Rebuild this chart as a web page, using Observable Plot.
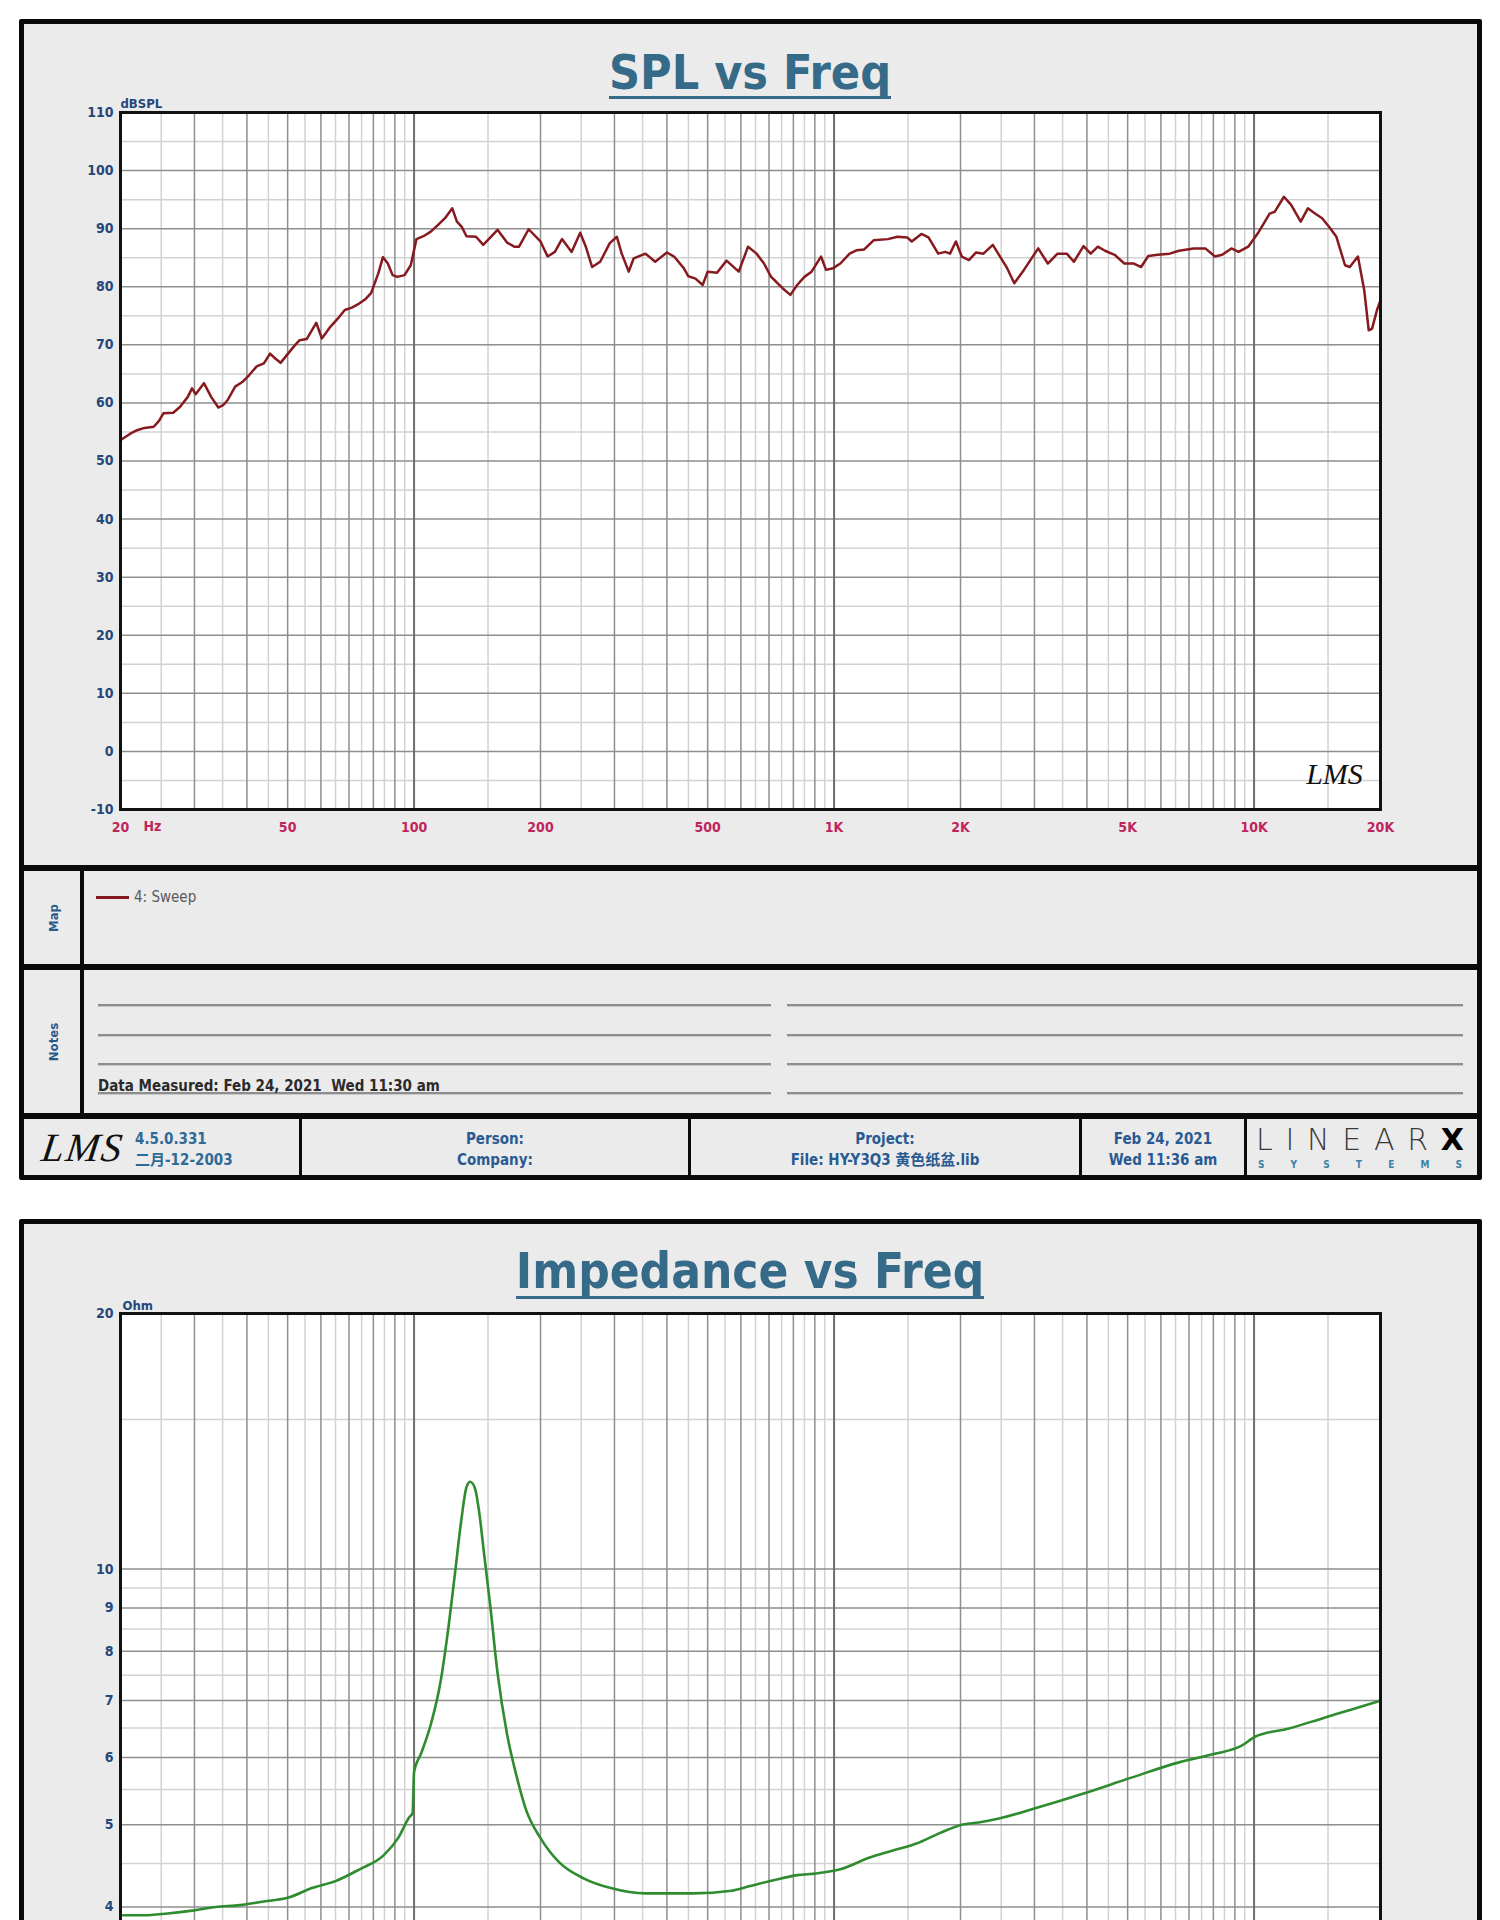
<!DOCTYPE html>
<html><head><meta charset="utf-8">
<script src="https://cdn.jsdelivr.net/npm/d3@7"></script>
<script src="https://cdn.jsdelivr.net/npm/@observablehq/plot@0.6"></script>
<style>
html,body{margin:0;padding:0;background:#fff;}
body{width:1500px;height:1920px;overflow:hidden;position:relative;font-family:"DejaVu Sans Condensed","DejaVu Sans","Noto Sans CJK SC",sans-serif;font-stretch:condensed;}
.panel{position:absolute;background:#ebebeb;border:5px solid #0a0a0a;box-sizing:border-box;border-radius:2px;}
.bar{position:absolute;background:#0a0a0a;}
.t{position:absolute;white-space:pre;line-height:1;}
.title{position:absolute;left:0;width:1500px;text-align:center;}
.title span{display:inline-block;font-size:48px;line-height:48px;font-weight:bold;color:#356a88;border-bottom:3px solid #356a88;}
.vlab{position:absolute;font-size:13px;font-weight:bold;color:#2a5a8a;transform:translate(-50%,-50%) rotate(-90deg);white-space:pre;}
.nline{position:absolute;height:2px;background:#8d8d8d;box-shadow:0 1px 0 #c9c9c9;}
.foot{position:absolute;font-size:15px;font-weight:bold;color:#2a5a92;text-align:center;line-height:1;white-space:pre;transform:translateY(-50%);}
.plotwrap{position:absolute;left:0;}
</style>
</head>
<body>
<div class="panel" style="left:19px;top:19px;width:1463px;height:1161px;"></div>
<div class="panel" style="left:19px;top:1219px;width:1463px;height:900px;"></div>

<div class="title" style="top:48px;"><span>SPL vs Freq</span></div>
<div class="title" style="top:1248px;"><span style="font-size:49px;">Impedance vs Freq</span></div>

<div id="spl" class="plotwrap" style="top:0px;"></div>
<div id="imp" class="plotwrap" style="top:1219px;"></div>

<!-- dividers -->
<div class="bar" style="left:19px;top:865px;width:1463px;height:6px;"></div>
<div class="bar" style="left:19px;top:964px;width:1463px;height:6px;"></div>
<div class="bar" style="left:19px;top:1113px;width:1463px;height:6px;"></div>
<div class="bar" style="left:80px;top:871px;width:4px;height:242px;"></div>
<div class="bar" style="left:299px;top:1119px;width:3px;height:57px;"></div>
<div class="bar" style="left:688px;top:1119px;width:3px;height:57px;"></div>
<div class="bar" style="left:1079px;top:1119px;width:3px;height:57px;"></div>
<div class="bar" style="left:1244px;top:1119px;width:3px;height:57px;"></div>

<!-- map -->
<div class="vlab" style="left:53px;top:918px;">Map</div>
<div id="legendLine" style="position:absolute;left:96px;top:896px;width:33px;height:2.5px;"></div>
<div id="legendText" class="t" style="left:134px;top:890px;font-size:15px;color:#5a5a5a;font-stretch:normal;"></div>

<!-- notes -->
<div class="vlab" style="left:53px;top:1042px;">Notes</div>
<div class="nline" style="left:98px;top:1004px;width:673px;"></div>
<div class="nline" style="left:787px;top:1004px;width:676px;"></div>
<div class="nline" style="left:98px;top:1034px;width:673px;"></div>
<div class="nline" style="left:787px;top:1034px;width:676px;"></div>
<div class="nline" style="left:98px;top:1063px;width:673px;"></div>
<div class="nline" style="left:787px;top:1063px;width:676px;"></div>
<div class="nline" style="left:98px;top:1092px;width:673px;"></div>
<div class="nline" style="left:787px;top:1092px;width:676px;"></div>
<div class="t" style="left:98px;top:1079px;font-size:15px;font-weight:bold;color:#2b2b2b;">Data Measured: Feb 24, 2021  Wed 11:30 am</div>

<!-- footer -->
<div class="t" style="left:42px;top:1128px;font-family:'Liberation Serif',serif;font-style:italic;font-size:40px;letter-spacing:2px;color:#111;transform:skewX(-8deg);">LMS</div>
<div class="foot" style="left:135px;top:1139px;color:#2d6a98;text-align:left;">4.5.0.331</div>
<div class="foot" style="left:135px;top:1160px;color:#2d6a98;text-align:left;">二月-12-2003</div>
<div class="foot" style="left:302px;width:386px;top:1139px;">Person:</div>
<div class="foot" style="left:302px;width:386px;top:1160px;">Company:</div>
<div class="foot" style="left:691px;width:388px;top:1139px;">Project:</div>
<div class="foot" style="left:691px;width:388px;top:1160px;">File: HY-Y3Q3 黄色纸盆.lib</div>
<div class="foot" style="left:1082px;width:162px;top:1139px;">Feb 24, 2021</div>
<div class="foot" style="left:1082px;width:162px;top:1160px;">Wed 11:36 am</div>
<div style="position:absolute;left:1256px;top:1122px;width:208px;display:flex;justify-content:space-between;align-items:baseline;font-family:'DejaVu Sans',sans-serif;font-stretch:normal;font-size:30px;font-weight:200;color:#3a3a3a;line-height:normal;">
<span>L</span><span>I</span><span>N</span><span>E</span><span>A</span><span>R</span><span style="font-weight:900;color:#000;">X</span></div>
<div style="position:absolute;left:1258px;top:1159px;width:204px;display:flex;justify-content:space-between;font-size:10px;font-weight:bold;color:#3b82a6;line-height:normal;">
<span>S</span><span>Y</span><span>S</span><span>T</span><span>E</span><span>M</span><span>S</span></div>

<script>
// ---------- SPL data (Hz, dBSPL) ----------
const sweepFreq = [20.1,21.1,21.9,22.8,24.0,24.7,25.3,26.7,27.7,28.9,29.6,30.2,31.6,32.9,34.2,35.1,36.0,37.5,39.0,40.5,42.2,43.9,45.4,46.8,48.1,50.0,52.0,53.4,55.5,58.5,60.3,63.2,65.8,68.4,71.1,74.0,76.4,79.0,82.2,84.3,86.6,88.9,91.2,94.9,98.2,101.3,105.3,109.6,113.9,118.5,123.3,126.5,129.9,133.3,140.5,146.1,152.0,158.0,166.5,173.2,177.8,187.4,200,208,216.4,225,237.2,248.6,256.4,265.4,277.4,292.4,304,312.2,324.4,333.4,355.6,375,400,416,438.6,449.8,467.8,486.6,500,526.4,554.6,593,624,654,681,708,727,755,787,817,850,884,931,957,995,1035,1089,1133,1178,1242,1343,1416,1493,1531,1614,1678,1770,1840,1888,1950,2014,2094,2178,2268,2388,2484,2583,2686,2832,3062,3228,3404,3582,3724,3926,4084,4246,4416,4656,4910,5176,5384,5598,5902,6296,6626,7178,7656,8072,8396,8832,9184,9684,10210,10890,11196,11780,12254,12914,13430,13966,14522,15100,15704,16466,16900,17672,18294,18752,19100,19620,20000];
const sweepDb = [53.7,54.7,55.3,55.7,55.9,56.9,58.2,58.3,59.3,61.0,62.5,61.5,63.4,61.0,59.2,59.6,60.5,62.8,63.6,64.8,66.3,66.8,68.5,67.6,66.9,68.4,69.9,70.8,71.0,73.8,71.1,73.1,74.5,76.0,76.4,77.1,77.8,78.9,82.3,85.1,84.0,82.0,81.7,82.0,83.7,88.2,88.7,89.5,90.6,91.8,93.5,91.2,90.3,88.7,88.6,87.2,88.5,89.8,87.6,86.9,86.9,89.9,87.8,85.2,86.0,88.2,86.0,89.3,86.9,83.4,84.3,87.5,88.6,85.7,82.6,84.9,85.7,84.3,85.9,85.2,83.2,81.8,81.4,80.3,82.6,82.4,84.5,82.6,86.9,85.7,84.0,81.7,80.9,79.7,78.6,80.3,81.7,82.6,85.2,82.9,83.2,84.0,85.7,86.3,86.4,88.0,88.2,88.6,88.5,87.8,89.1,88.5,85.7,86.0,85.7,87.8,85.2,84.6,85.9,85.7,87.2,85.2,83.2,80.6,82.9,86.6,84.0,85.7,85.7,84.3,87.0,85.7,86.9,86.2,85.5,84.0,84.0,83.4,85.3,85.5,85.7,86.2,86.6,86.6,85.2,85.5,86.6,86.0,86.9,89.2,92.6,92.9,95.5,94.1,91.2,93.5,92.6,91.8,90.3,88.6,83.7,83.4,85.2,79.4,72.5,72.8,76.0,77.7];

// ---------- Impedance data (Hz, Ohm) ----------
const impFreq = [20.3,22.7,25.9,29.6,33.7,38.5,43.9,50.0,57.1,65.0,74.2,84.6,91.6,97.4,99.2,100,104,109.6,115.6,120.1,124.8,129.5,133.2,135.9,139.5,142.8,146.8,151.9,158,166.5,175.6,184.9,200,222,254,294,356,461,570,627,717,817,907,1035,1211,1380,1571,1790,2014,2208,2454,3027,3926,5103,6626,7960,9320,10080,12110,14520,17000,20000];
const impOhm = [3.91,3.91,3.93,3.96,4.00,4.02,4.06,4.10,4.21,4.29,4.43,4.60,4.82,5.10,5.16,5.77,6.07,6.56,7.36,8.37,9.77,11.4,12.47,12.67,12.47,11.7,10.42,9.04,7.55,6.39,5.69,5.20,4.82,4.51,4.32,4.21,4.15,4.15,4.18,4.23,4.30,4.36,4.38,4.43,4.57,4.66,4.75,4.89,5.00,5.03,5.08,5.23,5.44,5.68,5.92,6.05,6.19,6.35,6.49,6.67,6.83,7.00];

// ---------- axes / grid ----------
const xTickValues = [20,50,100,200,500,1000,2000,5000,10000,20000];
const xTickLabels = ["20","50","100","200","500","1K","2K","5K","10K","20K"];
const xGridDecade = [100,1000,10000];
const xGridMajor = [30,40,50,60,70,80,90,200,300,400,500,600,700,800,900,2000,3000,4000,5000,6000,7000,8000,9000];
const xGridMinor = [25,35,45,55,65,75,85,95,150,250,350,450,550,650,750,850,950,1500,2500,3500,4500,5500,6500,7500,8500,9500,15000];
const splTicks = [-10,0,10,20,30,40,50,60,70,80,90,100,110];
const splGridMajor = [0,10,20,30,40,50,60,70,80,90,100];
const splGridMinor = [-5,5,15,25,35,45,55,65,75,85,95,105];
const impTicks = [4,5,6,7,8,9,10,20];
const impGridMajor = [3,4,5,6,7,8,9,10];
const impGridMinor = [2.5,3.5,4.5,5.5,6.5,7.5,8.5,9.5,15];
const legendLabel = "4: Sweep";

const splColor = "#861a1f";
const impColor = "#2e8b2e";
const xLabColor = "#c0245c";
const yLabColor = "#24487a";

const spl = sweepFreq.map((f, i) => ({f, v: sweepDb[i]}));
const imp = impFreq.map((f, i) => ({f, v: impOhm[i]}));

const baseStyle = {background: "transparent", overflow: "visible", fontFamily: "'DejaVu Sans Condensed','DejaVu Sans',sans-serif", fontSize: "14px", fontWeight: "bold", fontStretch: "condensed"};

function gridMarks(yMajor, yMinor) {
  return [
    Plot.frame({fill: "white"}),
    Plot.ruleX(xGridMinor, {stroke: "#d2d2d2", strokeWidth: 1.5}),
    Plot.ruleY(yMinor, {stroke: "#d2d2d2", strokeWidth: 1.5}),
    Plot.ruleX(xGridMajor, {stroke: "#8e8e8e", strokeWidth: 1.5}),
    Plot.ruleY(yMajor, {stroke: "#8e8e8e", strokeWidth: 1.5}),
    Plot.ruleX(xGridDecade, {stroke: "#6e6e6e", strokeWidth: 2})
  ];
}

const splChart = Plot.plot({
  width: 1500, height: 870,
  marginLeft: 120, marginRight: 120, marginTop: 112, marginBottom: 61,
  x: {type: "log", domain: [20, 20000]},
  y: {domain: [-10, 110]},
  style: baseStyle,
  marks: [
    ...gridMarks(splGridMajor, splGridMinor),
    Plot.line(spl, {x: "f", y: "v", stroke: splColor, strokeWidth: 2.5}),
    Plot.frame({stroke: "#111", strokeWidth: 3}),
    Plot.axisX(xTickValues, {tickSize: 0, tickPadding: 13, color: xLabColor, label: null, tickFormat: d => xTickLabels[xTickValues.indexOf(d)]}),
    Plot.text([20], {x: d => d, frameAnchor: "bottom", text: () => "Hz", dx: 32, dy: 21, fill: xLabColor}),
    Plot.axisY(splTicks, {tickSize: 0, tickPadding: 7, color: yLabColor, label: null, tickFormat: d => String(d)}),
    Plot.text(["dBSPL"], {frameAnchor: "top-left", textAnchor: "start", dy: -14, fontSize: 13, fill: yLabColor}),
    Plot.text(["LMS"], {frameAnchor: "bottom-right", textAnchor: "middle", dx: -46, dy: -26, fontSize: 30, fontStyle: "italic", fontWeight: "normal", fontFamily: "'Liberation Serif',serif", fill: "#111"})
  ]
});
document.getElementById("spl").appendChild(splChart);

const impChart = Plot.plot({
  width: 1500, height: 1004,
  marginLeft: 120, marginRight: 120, marginTop: 94, marginBottom: 61,
  x: {type: "log", domain: [20, 20000], axis: null},
  y: {type: "log", domain: [2, 20]},
  style: baseStyle,
  marks: [
    ...gridMarks(impGridMajor, impGridMinor),
    Plot.line(imp, {x: "f", y: "v", stroke: impColor, strokeWidth: 2.6, curve: "monotone-x"}),
    Plot.frame({stroke: "#111", strokeWidth: 3}),
    Plot.axisY(impTicks, {tickSize: 0, tickPadding: 7, color: yLabColor, label: null, tickFormat: d => String(d)}),
    Plot.text(["Ohm"], {frameAnchor: "top-left", textAnchor: "start", dy: -13, dx: 2, fontSize: 13, fill: yLabColor})
  ]
});
document.getElementById("imp").appendChild(impChart);

document.getElementById("legendLine").style.background = splColor;
document.getElementById("legendText").textContent = legendLabel;
</script>
</body></html>
